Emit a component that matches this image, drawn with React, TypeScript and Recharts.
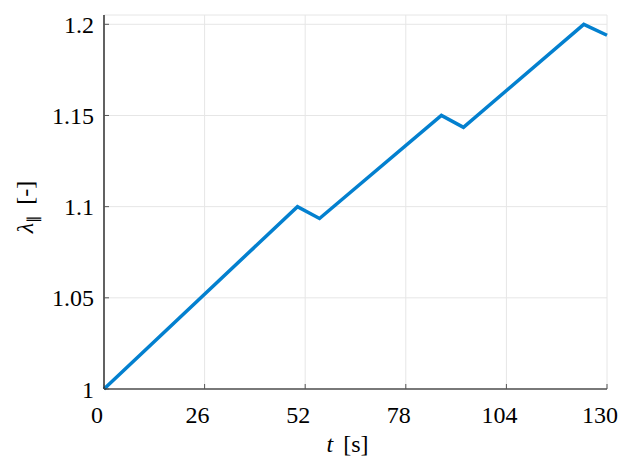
import { LineChart, Line, XAxis, YAxis, CartesianGrid, Label } from 'recharts';

// time [s] and stretch values
const times = [0, 50, 55.7, 87.2, 92.9, 124, 130];
const stretch = [1.0, 1.1, 1.0935, 1.15, 1.1435, 1.2, 1.194];

const xTicks = [0, 26, 52, 78, 104, 130];
const yTicks = [1, 1.05, 1.1, 1.15, 1.2];

const data = times.map((t, i) => ({ t, lambda: stretch[i] }));

const textStyle = { fontFamily: "'Liberation Serif', 'Times New Roman', serif", fontSize: 24 };
const X_MARGIN = 17;
const Y_MARGIN = 10;

const XTick = (props: any) => {
  const { x, y, payload } = props;
  const axisY = y - X_MARGIN;
  return (
    <g>
      <line x1={x} y1={axisY} x2={x} y2={axisY - 5} stroke="#555" strokeWidth={1} />
      <text x={x - 7} y={y} dy="0.71em" textAnchor="middle" style={textStyle} fill="#000">
        {payload.value}
      </text>
    </g>
  );
};

const YTick = (props: any) => {
  const { x, y, payload } = props;
  const axisX = x + Y_MARGIN;
  return (
    <g>
      <line x1={axisX} y1={y} x2={axisX + 5} y2={y} stroke="#555" strokeWidth={1} />
      <text x={x} y={y} dy="0.355em" textAnchor="end" style={textStyle} fill="#000">
        {String(payload.value)}
      </text>
    </g>
  );
};

export default function App() {
  return (
    <div>
      <style>{'body{margin:0}'}</style>
      <LineChart
        width={619}
        height={460}
        data={data}
        margin={{ top: 15, right: 12, left: 24, bottom: 11 }}
      >
        <CartesianGrid stroke="#e6e6e6" strokeWidth={1} />
        <XAxis
          type="number"
          dataKey="t"
          domain={[0, 130]}
          ticks={xTicks}
          interval={0}
          height={60}
          tickSize={0}
          tickMargin={X_MARGIN}
          tick={<XTick />}
          axisLine={{ stroke: '#000', strokeWidth: 1.2 }}
          tickLine={false}
        >
          <Label
            content={(p: any) => {
              const vb = p.viewBox;
              return (
                <text x={vb.x + vb.width / 2 - 8} y={vb.y + 63} textAnchor="middle" style={textStyle} fill="#000">
                  <tspan fontStyle="italic">t</tspan>
                  <tspan dx={10}>[s]</tspan>
                </text>
              );
            }}
          />
        </XAxis>
        <YAxis
          type="number"
          domain={[1, 1.2051]}
          ticks={yTicks}
          interval={0}
          width={80}
          tickSize={0}
          tickMargin={Y_MARGIN}
          tick={<YTick />}
          axisLine={{ stroke: '#000', strokeWidth: 1.2 }}
          tickLine={false}
        >
          <Label
            content={(p: any) => {
              const vb = p.viewBox;
              const cx = vb.x + 9;
              const cy = vb.y + vb.height / 2 + 5;
              return (
                <text
                  x={cx}
                  y={cy}
                  textAnchor="middle"
                  transform={`rotate(-90, ${cx}, ${cy})`}
                  style={textStyle}
                  fill="#000"
                >
                  <tspan fontStyle="italic">λ</tspan>
                  <tspan style={{ fontSize: 15 }} dy={5}>∥</tspan>
                  <tspan dy={-5} dx={10}>[-]</tspan>
                </text>
              );
            }}
          />
        </YAxis>
        <Line
          type="linear"
          dataKey="lambda"
          stroke="#0380cf"
          strokeWidth={3.5}
          dot={false}
          isAnimationActive={false}
        />
      </LineChart>
    </div>
  );
}
